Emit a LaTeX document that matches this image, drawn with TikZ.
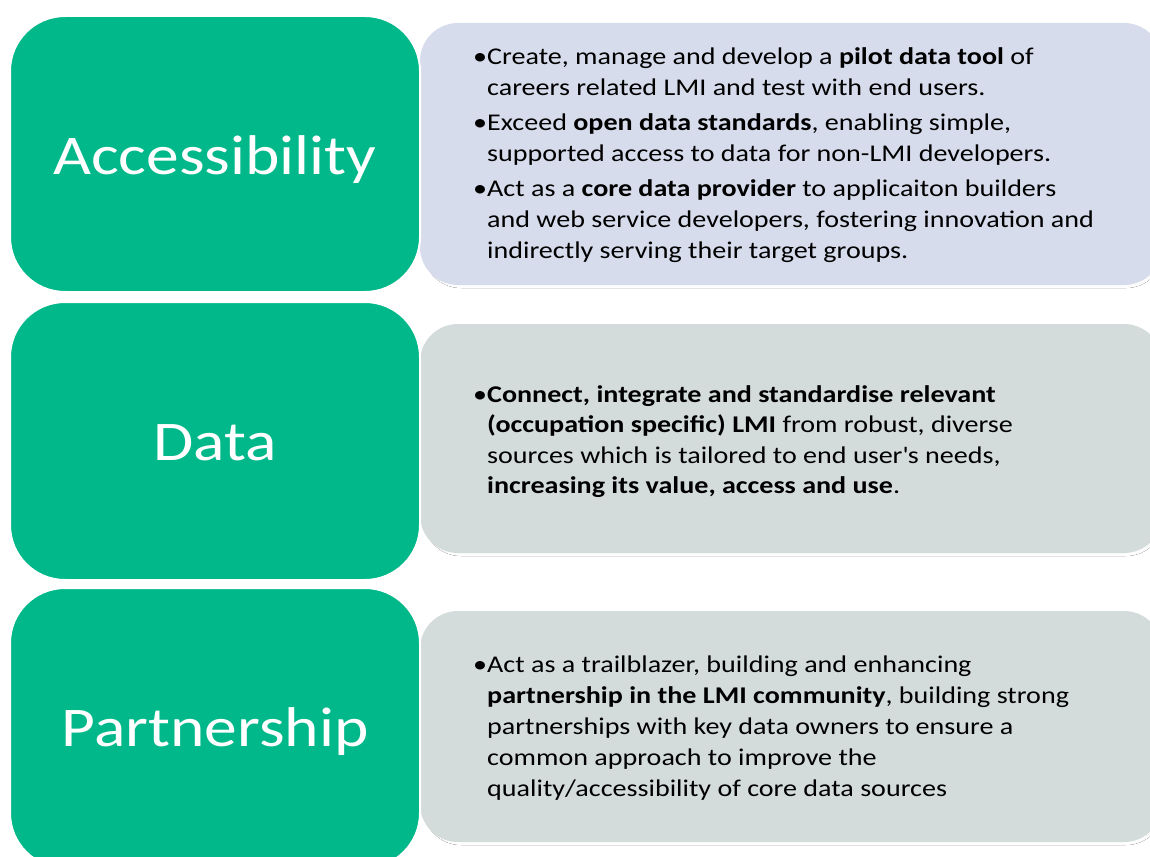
\documentclass[tikz,border=0pt]{standalone}
\usepackage{fontspec}
\setmainfont{Carlito}[FakeStretch=1.17]
\definecolor{gbox}{RGB}{0,184,138}
\definecolor{bluebox}{RGB}{214,220,235}
\definecolor{greybox}{RGB}{211,220,219}
\definecolor{shade}{RGB}{200,206,230}
\begin{document}
\begin{tikzpicture}[x=1pt,y=-1pt,
  title/.style={text=white,font=\fontsize{56}{64}\selectfont,inner sep=0pt},
  body/.style={anchor=base west,inner sep=0pt,font=\fontsize{24}{30}\selectfont,text=black},
  greenbox/.style={fill=gbox,draw=white,line width=2pt,rounded corners=55pt},
  panel/.style={rounded corners=38pt}]
\useasboundingbox (0,0) rectangle (1150,856);
% right panels (shadow then fill)
\fill[shade,panel] (423,26) rectangle (1164,288);
\fill[bluebox,panel] (420,23) rectangle (1162,285);
\fill[shade,panel] (423,327) rectangle (1164,556);
\fill[greybox,panel] (420,324) rectangle (1162,553);
\fill[shade,panel] (423,614) rectangle (1164,845);
\fill[greybox,panel] (420,611) rectangle (1162,842);
% green boxes
\node[greenbox,minimum width=410pt,minimum height=276pt] (g1) at (215,154) {};
\node[greenbox,minimum width=410pt,minimum height=278pt] (g2) at (215,441) {};
\node[greenbox,minimum width=410pt,minimum height=280pt] (g3) at (215,728) {};
\node[title,anchor=base] (t1) at (215,174) {Accessibility};
\node[title,anchor=base] (t2) at (215,460) {Data};
\node[title,anchor=base] (t3) at (215,746) {Partnership};
% box 1 text
\node[body] (a1) at (487,65) {\llap{•}Create, manage and develop a \textbf{pilot data tool} of};
\node[body] (a2) at (487,96) {careers related LMI and test with end users.};
\node[body] (a3) at (487,130) {\llap{•}Exceed \textbf{open data standards}, enabling simple,};
\node[body] (a4) at (487,161) {supported access to data for non-LMI developers.};
\node[body] (a5) at (487,196) {\llap{•}Act as a \textbf{core data provider} to applicaiton builders};
\node[body] (a6) at (487,227) {and web service developers, fostering innovation and};
\node[body] (a7) at (487,258) {indirectly serving their target groups.};
% box 2 text
\node[body] (b1) at (487,402) {\llap{•}\textbf{Connect, integrate and standardise relevant}};
\node[body] (b2) at (487,432) {\textbf{(occupation specific) LMI} from robust, diverse};
\node[body] (b3) at (487,463) {sources which is tailored to end user\textquotesingle s needs,};
\node[body] (b4) at (487,493) {\textbf{increasing its value, access and use}.};
% box 3 text
\node[body] (c1) at (487,672) {\llap{•}Act as a trailblazer, building and enhancing};
\node[body] (c2) at (487,703) {\textbf{partnership in the LMI community}, building strong};
\node[body] (c3) at (487,734) {partnerships with key data owners to ensure a};
\node[body] (c4) at (487,765) {common approach to improve the};
\node[body] (c5) at (487,796) {quality/accessibility of core data sources};
\end{tikzpicture}
\end{document}
